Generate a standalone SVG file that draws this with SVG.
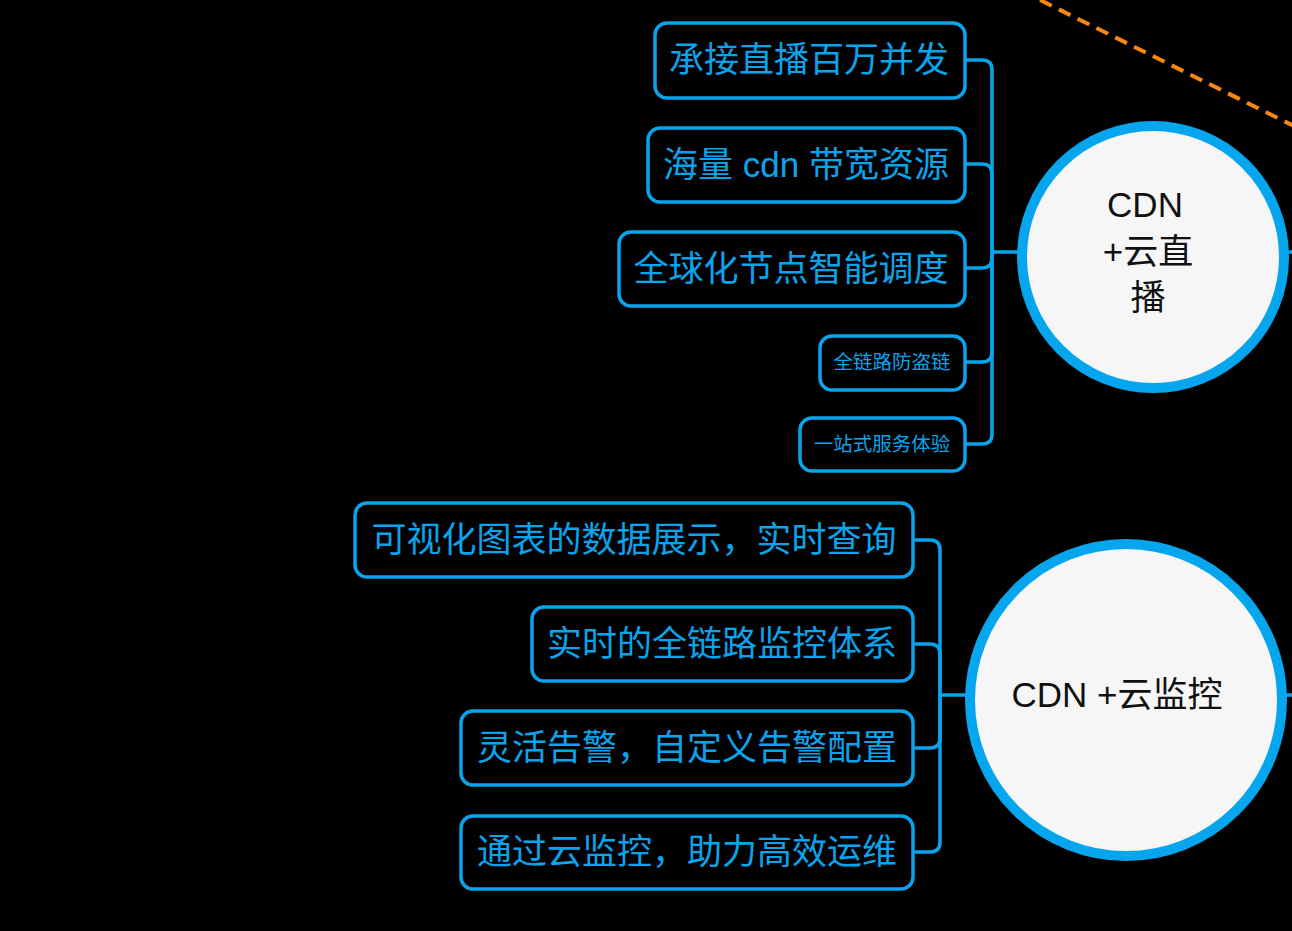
<svg xmlns="http://www.w3.org/2000/svg" width="1292" height="931" viewBox="0 0 1292 931">
  <style>
    .box rect { fill: none; stroke: #0aa4ec; stroke-width: 3.5; }
    .box text { fill: #0aa4ec; font-family: "Liberation Sans", "Noto Sans CJK SC", sans-serif; font-size: 35px; text-anchor: middle; }
    .box text.small { font-size: 19.5px; }
    .hub circle { fill: #f6f6f6; stroke: #06a6ef; stroke-width: 10; }
    .hub text { fill: #111; font-family: "Liberation Sans", "Noto Sans CJK SC", sans-serif; font-size: 35px; text-anchor: middle; }
    .conn path { fill: none; stroke: #0aa4ec; stroke-width: 3.5; }
    .dash { fill: none; stroke: #f7880f; stroke-width: 4; stroke-dasharray: 13 8; }
  </style>
  <rect x="0" y="0" width="1292" height="931" fill="#000"/>

  <line class="dash" x1="1040" y1="0" x2="1300" y2="129"/>

  <g id="connectors" class="conn">
    <path d="M 992 252 V 70 Q 992 60 982 60 H 965"/>
    <path d="M 992 252 V 174 Q 992 164 982 164 H 965"/>
    <path d="M 992 252 V 258 Q 992 268 982 268 H 965"/>
    <path d="M 992 252 V 352 Q 992 362 982 362 H 965"/>
    <path d="M 992 252 V 434 Q 992 444 982 444 H 965"/>
    <path d="M 992 252 H 1020"/>
    <path d="M 1286 252 H 1292"/>
    <path d="M 940 695 V 550 Q 940 540 930 540 H 913"/>
    <path d="M 940 695 V 654 Q 940 644 930 644 H 913"/>
    <path d="M 940 695 V 738 Q 940 748 930 748 H 913"/>
    <path d="M 940 695 V 842 Q 940 852 930 852 H 913"/>
    <path d="M 940 695 H 968"/>
    <path d="M 1284 695 H 1292"/>
  </g>

  <g id="hub-live" class="hub">
    <circle cx="1153" cy="257" r="131"/>
    <text x="1145" y="217">CDN</text>
    <text x="1148" y="264">+云直</text>
    <text x="1148" y="310">播</text>
  </g>
  <g id="hub-monitor" class="hub">
    <circle cx="1126" cy="700" r="156"/>
    <text x="1117" y="707">CDN +云监控</text>
  </g>

  <g id="n-t1" class="box">
    <rect x="655" y="23" width="310" height="75" rx="12"/>
    <text x="809" y="72">承接直播百万并发</text>
  </g>
  <g id="n-t2" class="box">
    <rect x="648" y="128" width="317" height="74" rx="12"/>
    <text x="806" y="177">海量 cdn 带宽资源</text>
  </g>
  <g id="n-t3" class="box">
    <rect x="619" y="232" width="346" height="74" rx="12"/>
    <text x="791" y="281">全球化节点智能调度</text>
  </g>
  <g id="n-t4" class="box">
    <rect x="820" y="336" width="145" height="54" rx="12"/>
    <text class="small" x="892" y="369">全链路防盗链</text>
  </g>
  <g id="n-t5" class="box">
    <rect x="800" y="418" width="165" height="53" rx="12"/>
    <text class="small" x="882" y="451">一站式服务体验</text>
  </g>

  <g id="n-b1" class="box">
    <rect x="355" y="503" width="558" height="74" rx="12"/>
    <text x="634" y="552">可视化图表的数据展示，实时查询</text>
  </g>
  <g id="n-b2" class="box">
    <rect x="532" y="607" width="381" height="74" rx="12"/>
    <text x="722" y="656">实时的全链路监控体系</text>
  </g>
  <g id="n-b3" class="box">
    <rect x="461" y="711" width="452" height="74" rx="12"/>
    <text x="687" y="760">灵活告警，自定义告警配置</text>
  </g>
  <g id="n-b4" class="box">
    <rect x="461" y="816" width="452" height="73" rx="12"/>
    <text x="687" y="864">通过云监控，助力高效运维</text>
  </g>
</svg>
